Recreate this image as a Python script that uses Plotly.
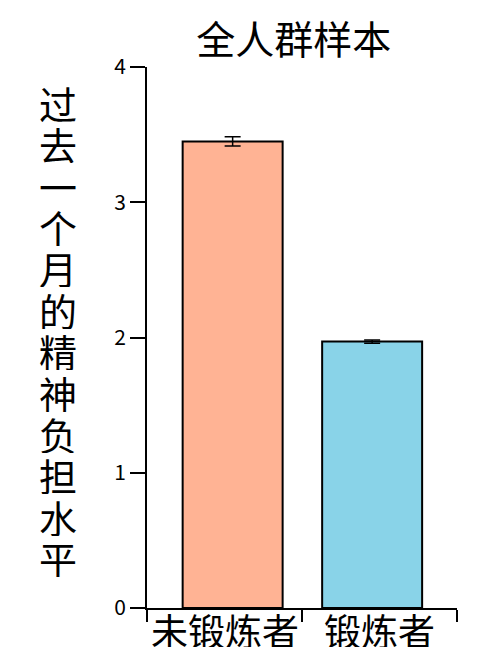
import plotly.graph_objects as go

groups = ["未锻炼者", "锻炼者"]
means = [3.45, 1.97]
errors = [0.035, 0.012]
colors = ["#FFB394", "#89D3E8"]
ylabel = "过去一个月的精神负担水平"

font = "Noto Sans CJK SC"

fig = go.Figure()
fig.add_trace(go.Bar(
    x=groups, y=means, width=0.645, offset=[-0.27, -0.37],
    marker=dict(color=colors, line=dict(color="black", width=2)),
    error_y=dict(type="data", array=errors, color="black", thickness=1.5, width=8),
))

# page has an 8px body margin, so the figure box is shifted by 8px
fig.update_layout(
    width=492, height=651,
    margin=dict(l=139, r=43, t=59, b=51),
    plot_bgcolor="white", paper_bgcolor="white",
    showlegend=False,
    font=dict(family=font, color="black"),
    title=dict(text="全人群样本", x=0.581, xanchor="center", y=0.951, yanchor="middle",
               font=dict(size=39, family=font, color="black")),
)
fig.update_xaxes(
    range=[-0.5, 1.5], showline=True, linecolor="black", linewidth=2,
    ticks="outside", tickson="boundaries", ticklen=12, tickwidth=2, tickcolor="black",
    showticklabels=False, showgrid=False, automargin=False,
)
fig.update_yaxes(
    range=[0, 4], dtick=1, showline=True, linecolor="black", linewidth=2,
    ticks="outside", ticklen=15, tickwidth=2, tickcolor="black",
    tickfont=dict(size=21, family=font), showgrid=False, zeroline=False, automargin=False,
)

# category labels sit tight under the axis, as in the reference
for g in groups:
    fig.add_annotation(
        text=g, xref="x", yref="paper", x=g, y=0, yanchor="top", yshift=-3,
        height=34, valign="middle",
        showarrow=False, font=dict(size=37, family=font, color="black"),
    )

# vertical label, one character per row
n = len(ylabel)
top, bottom = 102, 557
for i, ch in enumerate(ylabel):
    ypix = top + (bottom - top) * i / (n - 1)
    fig.add_annotation(
        text=ch, xref="paper", yref="paper",
        x=(58 - 147) / 310, y=(608 - ypix) / 541,
        xanchor="center", yanchor="middle", showarrow=False,
        height=40, valign="middle",
        font=dict(size=38, family=font, color="black"),
    )

fig.write_html("out.html")
